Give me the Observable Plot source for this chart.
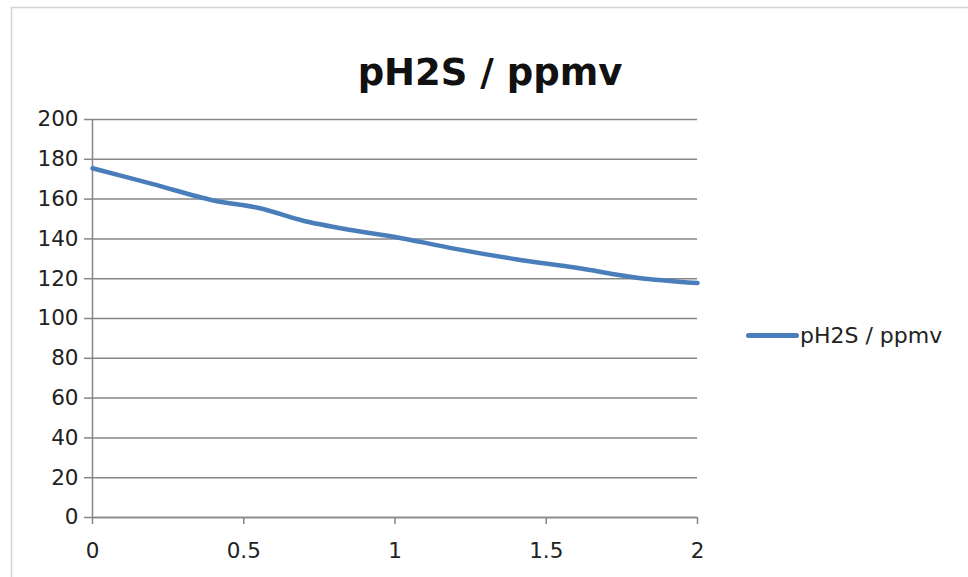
<!DOCTYPE html>
<html>
<head>
<meta charset="utf-8">
<script src="https://cdn.jsdelivr.net/npm/d3@7"></script>
<script src="https://cdn.jsdelivr.net/npm/@observablehq/plot@0.6"></script>
<style>
  html, body { margin: 0; padding: 0; background: #fff; }
  #chart { position: relative; width: 968px; height: 577px; overflow: hidden; }
  #chart svg { display: block; }
  .legend {
    position: absolute; left: 746px; top: 323px;
    display: flex; align-items: center;
    font-family: "DejaVu Sans", sans-serif; font-size: 22px; color: #222;
  }
  .legend .swatch {
    display: inline-block; width: 53px; height: 5px; border-radius: 2.5px;
    background: #4A7EBB; margin-right: 1px;
  }
</style>
</head>
<body>
<div id="chart"></div>
<script>
// Series: partial pressure of H2S (ppmv) against x
const xValues = [0, 0.2, 0.4, 0.55, 0.7, 0.9, 1.0, 1.2, 1.4, 1.6, 1.8, 2.0];
const yValues = [175.5, 167.5, 159.3, 155.5, 149, 143.3, 141, 135, 129.8, 125.5, 120.5, 117.8];
const seriesName = "pH2S / ppmv";
const chartTitle = "pH2S / ppmv";

const xTicks = [0, 0.5, 1, 1.5, 2];
const yTicks = [0, 20, 40, 60, 80, 100, 120, 140, 160, 180, 200];

const data = xValues.map((x, i) => ({x, y: yValues[i]}));

const gridColor = "#868686";
const textColor = "#222222";

const plot = Plot.plot({
  width: 968,
  height: 577,
  marginLeft: 92,
  marginRight: 271,
  marginTop: 119,
  marginBottom: 60,
  style: {fontFamily: "DejaVu Sans, sans-serif", color: textColor, background: "#fff"},
  x: {domain: [0, 2], label: null},
  y: {domain: [0, 200], label: null},
  marks: [
    // outer chart border
    Plot.frame({stroke: "#d4d4d4", strokeWidth: 1.5, insetLeft: -81, insetTop: -112, insetRight: -300, insetBottom: -120}),
    Plot.gridY(yTicks, {stroke: gridColor, strokeOpacity: 1, strokeWidth: 1.5}),
    Plot.axisY(yTicks, {label: null, tickSize: 8, tickPadding: 6, fontSize: 21.5, stroke: gridColor, strokeWidth: 1.5, fill: textColor, tickFormat: d => String(d)}),
    Plot.axisX(xTicks, {label: null, tickSize: 7, tickPadding: 18, fontSize: 21.5, stroke: gridColor, strokeWidth: 1.5, fill: textColor, tickFormat: d => String(d)}),
    Plot.ruleX([0], {stroke: gridColor, strokeWidth: 1.5}),
    Plot.ruleY([0], {stroke: gridColor, strokeWidth: 1.5}),
    Plot.line(data, {x: "x", y: "y", curve: "catmull-rom", stroke: "#4A7EBB", strokeWidth: 4.5, strokeLinecap: "round"}),
    Plot.text([chartTitle], {frameAnchor: "top", dx: 95, dy: -61, fontSize: 37, fontWeight: "bold", fill: "#111"})
  ]
});

const chart = document.getElementById("chart");
chart.appendChild(plot);

const legend = document.createElement("div");
legend.className = "legend";
legend.innerHTML = `<span class="swatch"></span><span></span>`;
legend.lastChild.textContent = seriesName;
chart.appendChild(legend);
</script>
</body>
</html>
